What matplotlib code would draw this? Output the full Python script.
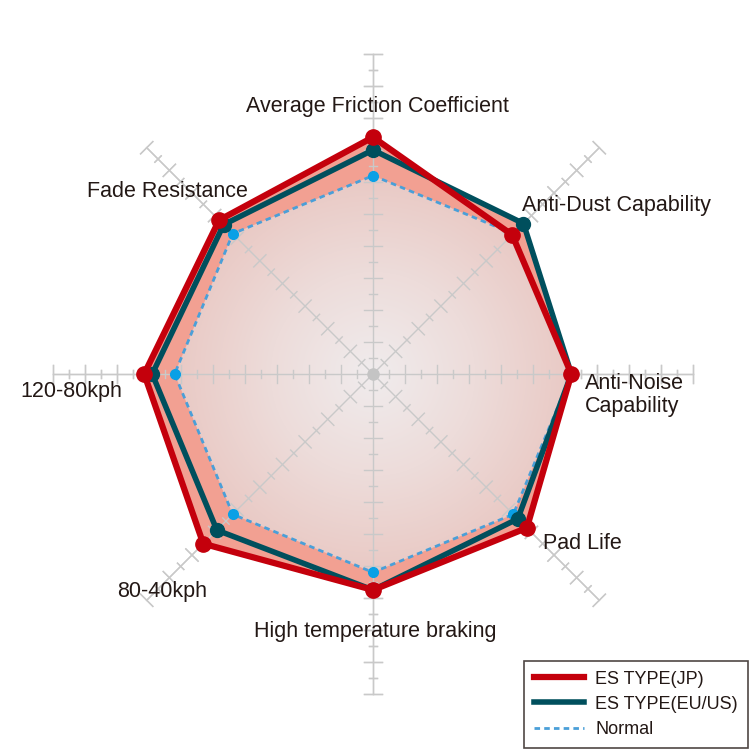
import numpy as np
import matplotlib.pyplot as plt
from matplotlib.colors import LinearSegmentedColormap
from matplotlib.patches import Polygon

plt.rcParams['font.family'] = ['Liberation Sans', 'DejaVu Sans']

# ejes del radar (sentido horario desde arriba)
categories = ['Average Friction Coefficient', 'Anti-Dust Capability', 'Anti-Noise\nCapability',
              'Pad Life', 'High temperature braking', '80-40kph', '120-80kph', 'Fade Resistance']
jp = [74, 61.5, 62, 68, 67.5, 75, 71.5, 68]
eu = [70, 66.5, 62, 64, 67.5, 69, 69, 66]
normal = [62, 62, 62, 62, 62, 62, 62, 62]
series_names = ['ES TYPE(JP)', 'ES TYPE(EU/US)', 'Normal']

r_max = 100
angles = np.deg2rad(np.arange(len(categories)) * 45)


def to_xy(vals):
    v = np.asarray(vals, dtype=float)
    return v * np.sin(angles), v * np.cos(angles)


def draw_spokes(z):
    for a in angles:
        ux, uy = np.sin(a), np.cos(a)
        px, py = -uy, ux
        ax.plot([0, r_max * ux], [0, r_max * uy], color=grid_c, lw=1.0, zorder=z)
        for k, t in enumerate(np.arange(5, r_max + 1, 5)):
            h = 2.7 if k % 2 == 1 else 1.4
            cx, cy = t * ux, t * uy
            ax.plot([cx - h * px, cx + h * px], [cy - h * py, cy + h * py],
                    color=grid_c, lw=1.0, zorder=z)


fig = plt.figure(figsize=(7.5, 7.5), dpi=100)
ax = fig.add_axes([0, 0, 1, 1])
ax.set_xlim(-373 / 3.2, 377 / 3.2)
ax.set_ylim(-376 / 3.2, 374 / 3.2)
ax.set_aspect('equal')
ax.axis('off')

grid_c = '#c9c9c9'
draw_spokes(1)

# relleno salmon de los tipos ES
for vals in (jp, eu):
    x, y = to_xy(vals)
    ax.add_patch(Polygon(np.column_stack([x, y]), closed=True, fc='#f2a092',
                         ec='none', zorder=2))

# degradado radial dentro de Normal
nx, ny = to_xy(normal)
grad_poly = Polygon(np.column_stack([nx, ny]), closed=True, fc='none', ec='none')
ax.add_patch(grad_poly)
g = np.linspace(-70, 70, 300)
gx, gy = np.meshgrid(g, g)
rad = np.sqrt(gx ** 2 + gy ** 2) / 64
cmap = LinearSegmentedColormap.from_list('g', ['#f0eced', '#eddcda', '#e9c8c3'])
im = ax.imshow(rad, cmap=cmap, vmin=0, vmax=1, extent=(-70, 70, -70, 70),
               origin='lower', zorder=3, interpolation='bilinear')
im.set_clip_path(grad_poly)

# radios otra vez encima del degradado
draw_spokes(4)
ax.plot([0], [0], 'o', color='#c4c4c4', ms=8, zorder=4)

# series
x, y = to_xy(normal)
ax.plot(np.append(x, x[0]), np.append(y, y[0]), color='#4a9fd8', lw=2, ls=(0, (2, 1.5)),
        zorder=5, label=series_names[2])
ax.plot(x, y, 'o', color='#0aa0e6', ms=7, zorder=5)

x, y = to_xy(eu)
ax.plot(np.append(x, x[0]), np.append(y, y[0]), color='#004f5d', lw=4, zorder=6,
        label=series_names[1], solid_joinstyle='round')
ax.plot(x, y, 'o', color='#004f5d', ms=10, zorder=6)

x, y = to_xy(jp)
ax.plot(np.append(x, x[0]), np.append(y, y[0]), color='#c4000c', lw=4.5, zorder=7,
        label=series_names[0], solid_joinstyle='round')
ax.plot(x, y, 'o', color='#c4000c', ms=11, zorder=7)

# etiquetas
label_pos = [(1.25, 83.7, 'center'), (46.6, 52.5, 'left'), (66.2, -6.6, 'left'),
             (53.1, -53.1, 'left'), (0.6, -80.6, 'center'), (-65.9, -68.1, 'center'),
             (-94.4, -5.6, 'center'), (-64.1, 56.9, 'center')]
for name, (lx, ly, ha) in zip(categories, label_pos):
    ax.text(lx, ly, name, ha=ha, va='center', fontsize=15.5, color='#231815',
            linespacing=1.1, zorder=8)

handles, labels = ax.get_legend_handles_labels()
order = [2, 1, 0]
leg = fig.legend([handles[i] for i in order], [labels[i] for i in order],
                 loc='lower right', bbox_to_anchor=(0.997, 0.003), fontsize=13,
                 frameon=True, fancybox=False, edgecolor='#231815', handlelength=2.8,
                 borderpad=0.55, labelspacing=0.45, handletextpad=0.6,
                 borderaxespad=0)
leg.get_frame().set_linewidth(1.2)
for t in leg.get_texts():
    t.set_color('#231815')

fig.savefig('out.png', dpi=100, facecolor='white')
